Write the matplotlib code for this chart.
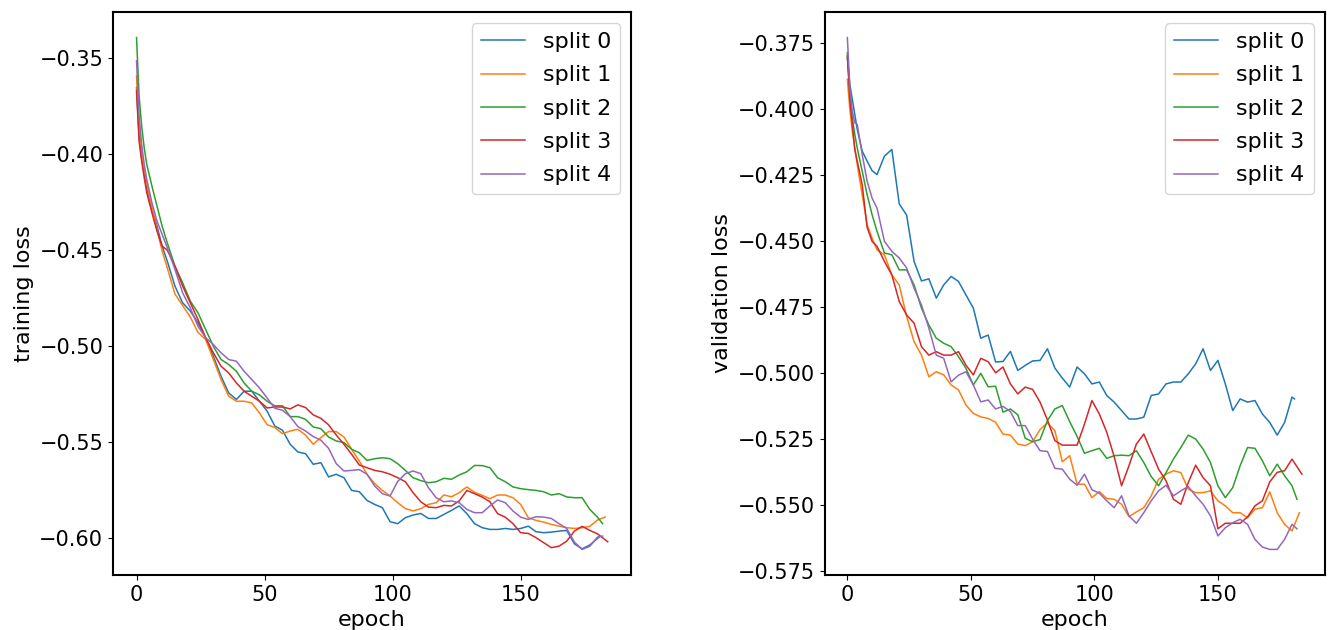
import matplotlib
matplotlib.use("Agg")
import matplotlib.pyplot as plt
from matplotlib.ticker import MultipleLocator

plt.rcParams['font.family'] = 'DejaVu Sans'
plt.rcParams['font.size'] = 16
plt.rcParams['xtick.labelsize'] = 15
plt.rcParams['ytick.labelsize'] = 15

# sampled epochs (same for every split), plus the last epoch of each split
epochs = [0, 1, 2, 3, 4, 6, 8, 10, 12] + list(range(15, 181, 3))
last_epoch = [181, 183, 182, 184, 182]
labels = ["split 0", "split 1", "split 2", "split 3", "split 4"]

# training loss, one list per split (last value = last epoch)
train_0 = [-0.3656, -0.3908, -0.4021, -0.4099, -0.4177, -0.4290, -0.4377, -0.4481, -0.4559,
           -0.4689, -0.4776, -0.4819, -0.4880, -0.4958, -0.5054, -0.5158, -0.5245, -0.5279, -0.5236,
           -0.5236, -0.5288, -0.5340, -0.5417, -0.5439, -0.5512, -0.5552, -0.5561, -0.5616, -0.5608,
           -0.5682, -0.5668, -0.5686, -0.5752, -0.5759, -0.5804, -0.5825, -0.5842, -0.5915, -0.5925,
           -0.5894, -0.5880, -0.5872, -0.5898, -0.5898, -0.5877, -0.5856, -0.5833, -0.5873, -0.5925,
           -0.5946, -0.5955, -0.5955, -0.5950, -0.5955, -0.5950, -0.5938, -0.5967, -0.5972, -0.5969,
           -0.5964, -0.5960, -0.6030, -0.6056, -0.6036, -0.6002,
           -0.5990]
train_1 = [-0.3596, -0.3856, -0.3995, -0.4082, -0.4160, -0.4281, -0.4394, -0.4507, -0.4594,
           -0.4730, -0.4790, -0.4850, -0.4930, -0.4967, -0.5071, -0.5175, -0.5262, -0.5288, -0.5288,
           -0.5297, -0.5349, -0.5410, -0.5425, -0.5457, -0.5443, -0.5434, -0.5464, -0.5512, -0.5477,
           -0.5446, -0.5446, -0.5474, -0.5538, -0.5599, -0.5668, -0.5717, -0.5752, -0.5781, -0.5816,
           -0.5847, -0.5859, -0.5847, -0.5825, -0.5816, -0.5776, -0.5785, -0.5764, -0.5734, -0.5762,
           -0.5778, -0.5795, -0.5776, -0.5776, -0.5790, -0.5825, -0.5894, -0.5908, -0.5917, -0.5929,
           -0.5938, -0.5946, -0.5950, -0.5946, -0.5939, -0.5906,
           -0.5891]
train_2 = [-0.3396, -0.3700, -0.3856, -0.3969, -0.4056, -0.4168, -0.4273, -0.4377, -0.4464,
           -0.4585, -0.4672, -0.4767, -0.4828, -0.4915, -0.5002, -0.5071, -0.5097, -0.5132, -0.5193,
           -0.5236, -0.5255, -0.5288, -0.5312, -0.5312, -0.5368, -0.5368, -0.5382, -0.5422, -0.5431,
           -0.5474, -0.5495, -0.5503, -0.5538, -0.5556, -0.5596, -0.5587, -0.5582, -0.5587, -0.5613,
           -0.5648, -0.5686, -0.5701, -0.5712, -0.5707, -0.5689, -0.5694, -0.5672, -0.5655, -0.5622,
           -0.5623, -0.5634, -0.5686, -0.5707, -0.5734, -0.5743, -0.5748, -0.5752, -0.5759, -0.5776,
           -0.5769, -0.5786, -0.5790, -0.5790, -0.5851, -0.5891,
           -0.5925]
train_3 = [-0.3674, -0.3934, -0.4038, -0.4125, -0.4203, -0.4307, -0.4403, -0.4481, -0.4502,
           -0.4585, -0.4689, -0.4776, -0.4863, -0.4958, -0.5036, -0.5106, -0.5141, -0.5193, -0.5236,
           -0.5262, -0.5288, -0.5323, -0.5318, -0.5318, -0.5328, -0.5307, -0.5321, -0.5359, -0.5377,
           -0.5411, -0.5464, -0.5512, -0.5564, -0.5620, -0.5634, -0.5648, -0.5655, -0.5668, -0.5686,
           -0.5707, -0.5764, -0.5811, -0.5839, -0.5842, -0.5830, -0.5833, -0.5807, -0.5752, -0.5769,
           -0.5787, -0.5811, -0.5873, -0.5891, -0.5925, -0.5972, -0.5976, -0.5998, -0.6024, -0.6050,
           -0.6042, -0.6016, -0.5964, -0.5939, -0.5960, -0.5978,
           -0.6019]
train_4 = [-0.3517, -0.3804, -0.3951, -0.4056, -0.4134, -0.4255, -0.4351, -0.4420, -0.4489,
           -0.4602, -0.4724, -0.4802, -0.4898, -0.4958, -0.4993, -0.5036, -0.5071, -0.5080, -0.5132,
           -0.5175, -0.5219, -0.5271, -0.5325, -0.5335, -0.5368, -0.5420, -0.5443, -0.5472, -0.5491,
           -0.5533, -0.5613, -0.5651, -0.5648, -0.5644, -0.5668, -0.5729, -0.5769, -0.5781, -0.5705,
           -0.5665, -0.5651, -0.5665, -0.5738, -0.5790, -0.5811, -0.5807, -0.5816, -0.5851, -0.5868,
           -0.5868, -0.5833, -0.5802, -0.5816, -0.5859, -0.5891, -0.5903, -0.5889, -0.5891, -0.5898,
           -0.5925, -0.5950, -0.6021, -0.6059, -0.6043, -0.5995,
           -0.5990]

# validation loss
val_0 = [-0.3807, -0.3908, -0.3965, -0.4022, -0.4079, -0.4161, -0.4199, -0.4235, -0.4250,
         -0.4180, -0.4155, -0.4361, -0.4404, -0.4579, -0.4653, -0.4645, -0.4718, -0.4668, -0.4636,
         -0.4655, -0.4706, -0.4756, -0.4870, -0.4858, -0.4960, -0.4958, -0.4920, -0.4992, -0.4973,
         -0.4956, -0.4954, -0.4910, -0.4983, -0.5021, -0.5055, -0.4979, -0.5005, -0.5043, -0.5036,
         -0.5087, -0.5112, -0.5144, -0.5176, -0.5176, -0.5169, -0.5087, -0.5081, -0.5043, -0.5036,
         -0.5036, -0.5005, -0.4967, -0.4910, -0.4992, -0.4954, -0.5043, -0.5144, -0.5100, -0.5112,
         -0.5106, -0.5157, -0.5189, -0.5237, -0.5189, -0.5093,
         -0.5100]
val_1 = [-0.3889, -0.4003, -0.4085, -0.4149, -0.4212, -0.4326, -0.4440, -0.4491, -0.4535,
         -0.4554, -0.4630, -0.4668, -0.4788, -0.4883, -0.4934, -0.5016, -0.4997, -0.5009, -0.5047,
         -0.5066, -0.5123, -0.5155, -0.5168, -0.5174, -0.5188, -0.5233, -0.5237, -0.5271, -0.5277,
         -0.5262, -0.5216, -0.5191, -0.5220, -0.5338, -0.5315, -0.5423, -0.5423, -0.5474, -0.5451,
         -0.5477, -0.5480, -0.5499, -0.5546, -0.5528, -0.5512, -0.5467, -0.5404, -0.5385, -0.5372,
         -0.5379, -0.5442, -0.5455, -0.5455, -0.5448, -0.5486, -0.5505, -0.5531, -0.5531, -0.5550,
         -0.5518, -0.5512, -0.5452, -0.5531, -0.5575, -0.5600,
         -0.5531]
val_2 = [-0.3788, -0.3946, -0.4035, -0.4098, -0.4149, -0.4237, -0.4326, -0.4402, -0.4465,
         -0.4547, -0.4554, -0.4611, -0.4611, -0.4668, -0.4756, -0.4820, -0.4870, -0.4889, -0.4902,
         -0.4940, -0.4984, -0.5047, -0.5003, -0.5054, -0.5052, -0.5150, -0.5138, -0.5160, -0.5249,
         -0.5262, -0.5254, -0.5182, -0.5138, -0.5125, -0.5186, -0.5242, -0.5306, -0.5296, -0.5287,
         -0.5325, -0.5315, -0.5313, -0.5315, -0.5296, -0.5341, -0.5394, -0.5429, -0.5379, -0.5328,
         -0.5284, -0.5237, -0.5252, -0.5290, -0.5341, -0.5429, -0.5474, -0.5436, -0.5353, -0.5284,
         -0.5287, -0.5334, -0.5391, -0.5347, -0.5391, -0.5429,
         -0.5480]
val_3 = [-0.3801, -0.3965, -0.4060, -0.4155, -0.4199, -0.4288, -0.4450, -0.4503, -0.4522,
         -0.4579, -0.4630, -0.4731, -0.4782, -0.4813, -0.4902, -0.4934, -0.4921, -0.4934, -0.4934,
         -0.4921, -0.4972, -0.5009, -0.4946, -0.4959, -0.5001, -0.4979, -0.5043, -0.5081, -0.5055,
         -0.5064, -0.5112, -0.5180, -0.5258, -0.5275, -0.5275, -0.5275, -0.5195, -0.5106, -0.5157,
         -0.5226, -0.5318, -0.5429, -0.5353, -0.5271, -0.5233, -0.5300, -0.5366, -0.5410, -0.5480,
         -0.5499, -0.5417, -0.5351, -0.5398, -0.5429, -0.5592, -0.5571, -0.5571, -0.5571, -0.5547,
         -0.5505, -0.5486, -0.5414, -0.5378, -0.5372, -0.5328,
         -0.5385]
val_4 = [-0.3731, -0.3921, -0.4010, -0.4054, -0.4060, -0.4174, -0.4275, -0.4339, -0.4377,
         -0.4503, -0.4541, -0.4566, -0.4604, -0.4680, -0.4744, -0.4832, -0.4934, -0.4946, -0.5035,
         -0.5010, -0.4997, -0.5047, -0.5111, -0.5104, -0.5138, -0.5128, -0.5148, -0.5201, -0.5201,
         -0.5252, -0.5296, -0.5299, -0.5363, -0.5366, -0.5404, -0.5427, -0.5385, -0.5444, -0.5457,
         -0.5486, -0.5512, -0.5467, -0.5543, -0.5571, -0.5531, -0.5486, -0.5448, -0.5427, -0.5467,
         -0.5448, -0.5432, -0.5467, -0.5499, -0.5543, -0.5619, -0.5588, -0.5569, -0.5556, -0.5575,
         -0.5632, -0.5661, -0.5670, -0.5670, -0.5632, -0.5575,
         -0.5592]

train = [train_0, train_1, train_2, train_3, train_4]
val = [val_0, val_1, val_2, val_3, val_4]

fig = plt.figure(figsize=(13.29, 6.3), dpi=100)
ax1 = fig.add_axes([0.085, 0.0873, 0.390, 0.8937])
ax2 = fig.add_axes([0.6205, 0.0873, 0.3762, 0.8937])

for i in range(5):
    x = epochs + [last_epoch[i]]
    ax1.plot(x, train[i], lw=1.1, label=labels[i])
    ax2.plot(x, val[i], lw=1.1, label=labels[i])

ax1.set_xlabel("epoch")
ax1.set_ylabel("training loss")
ax1.yaxis.set_major_locator(MultipleLocator(0.05))
ax2.set_xlabel("epoch")
ax2.set_ylabel("validation loss")
ax2.yaxis.set_major_locator(MultipleLocator(0.025))

for ax in (ax1, ax2):
    ax.legend(loc="upper right", labelspacing=0.6)
    for s in ax.spines.values():
        s.set_linewidth(1.5)

fig.savefig("out.png", dpi=100)
